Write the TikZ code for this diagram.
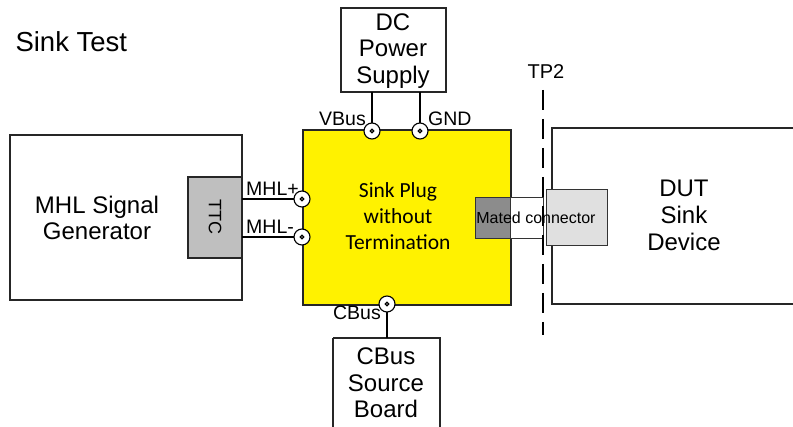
\documentclass[tikz,border=0pt]{standalone}
\usepackage{fontspec}
\setmainfont{Liberation Sans}
\newfontfamily\calib{Carlito}
\begin{document}
\begin{tikzpicture}[x=1pt,y=-1pt,
  box/.style={draw=black!85,line width=1.2pt},
  port/.style={circle,draw=black,fill=white,line width=1.1pt,minimum size=16pt,inner sep=0pt,
    path picture={\draw[line width=1.2pt] (path picture bounding box.center) circle (1.7pt);}},
  wire/.style={line width=2pt},
  big/.style={font=\fontsize{24}{26.5}\selectfont,align=center},
  lbl/.style={font=\fontsize{19.5}{22}\selectfont,inner sep=1pt}]
\useasboundingbox (0,0) rectangle (793,427);
\node[anchor=west,font=\fontsize{27.5}{30}\selectfont] (title) at (12,42) {Sink Test};
% generator
\draw[box] (10,135) rectangle (242,300);
\node[big] (gen) at (97,218) {MHL Signal\\Generator};
\draw[box,fill=black!25] (188,177) rectangle (242,258);
\node[rotate=-90,font=\fontsize{18}{20}\selectfont] (ttc) at (215,217) {TTC};
\coordinate (ttcA) at (242,199);
\coordinate (ttcB) at (242,237);
% sink plug
\draw[box,fill=yellow] (303,130) rectangle (511,305);
\node[font=\calib\fontsize{21.5}{26}\selectfont,align=center] (plug) at (398,216) {Sink Plug\\without\\Termination};
% DC power
\draw[box] (341,8) rectangle (446,92);
\node[big] (dc) at (393,51) {DC\\Power\\Supply};
\coordinate (dcA) at (372,92);
\coordinate (dcB) at (420,92);
% CBus board
\draw[box] (333,338) -- (333,428) (333,338) -- (440,338) -- (440,428);
\node[big] (cb) at (386,383) {CBus\\Source\\Board};
\coordinate (cbT) at (387,338);
% DUT
\draw[box] (794,128) -- (552,128) -- (552,304) -- (794,304);
\node[big,font=\fontsize{24}{27}\selectfont] (dut) at (684,215) {DUT\\Sink\\Device};
% mated connector
\draw[line width=0.8pt,draw=black!80,fill=black!45] (475,197) rectangle (510,238);
\draw[line width=0.8pt,draw=black!80,fill=white] (510,197) rectangle (543,238);
\draw[line width=0.8pt,draw=black!80,fill=black!12] (546,189) rectangle (607,245);
\node[font=\fontsize{16}{18}\selectfont] (mc) at (536,218) {Mated connector};
% TP2
\coordinate (tpT) at (543,90);
\coordinate (tpB) at (543,335);
\draw[line width=2.8pt,dash pattern=on 20pt off 9pt] (tpT) -- (tpB);
\node[lbl,font=\fontsize{20}{22}\selectfont] (tp2) at (546,72) {TP2};
% ports
\draw[wire] (ttcA) -- (302,199);
\draw[wire] (ttcB) -- (302,237);
\draw[wire] (dcA) -- (372,132);
\draw[wire] (dcB) -- (420,132);
\draw[wire] (387,304) -- (cbT);
\node[port] (p1) at (302,199) {};
\node[port] (p2) at (302,237) {};
\node[port] (p3) at (372,131) {};
\node[port] (p4) at (420,131) {};
\node[port] (p5) at (387,304) {};
% labels
\node[lbl,anchor=south west] (l1) at (245,197) {MHL+};
\node[lbl,anchor=south west] (l2) at (245,235) {MHL-};
\node[lbl,anchor=south east] (l3) at (367,127) {VBus};
\node[lbl,anchor=south west] (l4) at (427,127) {GND};
\node[lbl,anchor=north east] (l5) at (382,305) {CBus};
\end{tikzpicture}
\end{document}
